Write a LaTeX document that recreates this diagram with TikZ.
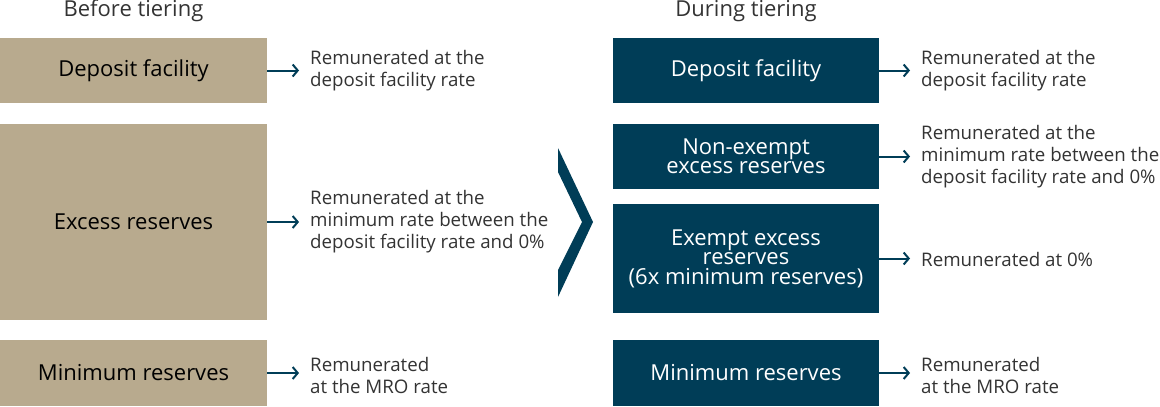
\documentclass[tikz,border=0pt]{standalone}
\usepackage{fontspec}
\setmainfont{Open Sans}
\usepackage{tikz}
\usetikzlibrary{positioning, arrows.meta}
\definecolor{beforeColor}{RGB}{184,170,142}
\definecolor{duringColor}{RGB}{0,61,87}
\definecolor{textColor}{RGB}{51,51,51}
\tikzstyle{canvas} = [x = 1pt, y = -1pt]
\tikzstyle{beforeBox} = [fill=beforeColor, text=black, minimum width = 267pt, inner sep = 0pt, align=center, font=\fontsize{22}{19.5}\selectfont]
\tikzstyle{duringBox} = [fill=duringColor, text=white, minimum width = 266pt, inner sep = 0pt, align=center, font=\fontsize{22}{19.5}\selectfont]
\tikzstyle{remText} = [anchor=west, inner sep = 0pt, align=left, text=textColor, font=\fontsize{18.7}{22}\selectfont]
\tikzstyle{titleText} = [text=textColor, font=\fontsize{22}{22}\selectfont]
\tikzstyle{remArrow} = [color=duringColor, line width = 2pt, -{Straight Barb[length=5pt, width=12pt]}]
\newcommand{\tierBox}[5]{\node [#1, minimum height = #4] (#2) at (#3) {#5};}
\newcommand{\remark}[4]{
  \node [remText] (#1Text) at (#2, #3) {#4};
  \draw [remArrow] (#1.east) -- ([xshift=-11]#1Text.west |- #1.east);
}

\begin{document}
\begin{tikzpicture}[canvas]
  \useasboundingbox (0,0) rectangle (1160,407);
  \node [titleText] (beforeTitle) at (133.5, 11) {Before tiering};
  \node [titleText] (duringTitle) at (746, 11) {During tiering};

  \tierBox{beforeBox}{leftDeposit}{133.5, 70.5}{65pt}{Deposit facility}
  \tierBox{beforeBox}{leftExcess}{133.5, 222}{196pt}{Excess reserves}
  \tierBox{beforeBox}{leftMinimum}{133.5, 373}{66pt}{Minimum reserves}
  \remark{leftDeposit}{310}{71}{Remunerated at the\\deposit facility rate}
  \remark{leftExcess}{310}{222}{Remunerated at the\\minimum rate between the\\deposit facility rate and 0\%}
  \remark{leftMinimum}{310}{375}{Remunerated\\at the MRO rate}

  % chevron between the two columns
  \fill [duringColor] (558,148) -- (593,222) -- (558,297) -- (558,270) -- (582,222) -- (558,172) -- cycle;

  \tierBox{duringBox}{rightDeposit}{746, 70.5}{65pt}{Deposit facility}
  \tierBox{duringBox}{rightNonExempt}{746, 156.5}{65pt}{Non-exempt\\excess reserves}
  \tierBox{duringBox}{rightExempt}{746, 258.5}{109pt}{Exempt excess\\reserves\\(6x minimum reserves)}
  \tierBox{duringBox}{rightMinimum}{746, 373}{66pt}{Minimum reserves}
  \remark{rightDeposit}{921}{71}{Remunerated at the\\deposit facility rate}
  \remark{rightNonExempt}{921}{157}{Remunerated at the\\minimum rate between the\\deposit facility rate and 0\%}
  \remark{rightExempt}{921}{259}{Remunerated at 0\%}
  \remark{rightMinimum}{921}{375}{Remunerated\\at the MRO rate}
\end{tikzpicture}
\end{document}
